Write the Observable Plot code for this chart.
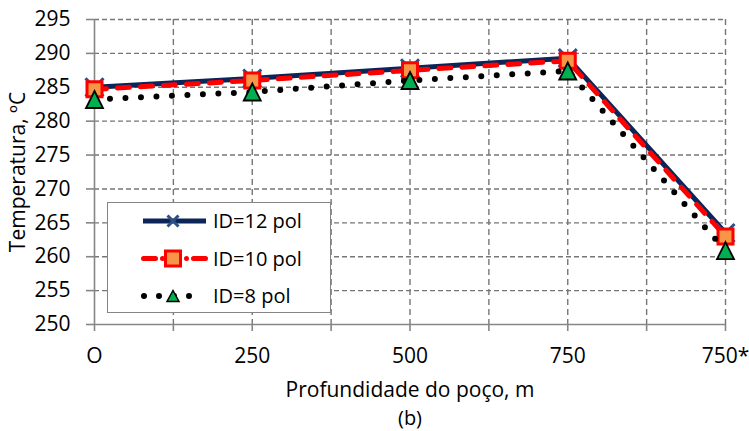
<!DOCTYPE html>
<html>
<head>
<meta charset="utf-8">
<script src="https://cdn.jsdelivr.net/npm/d3@7"></script>
<script src="https://cdn.jsdelivr.net/npm/@observablehq/plot@0.6"></script>
<style>
  html, body { margin: 0; padding: 0; background: #fff; }
  #wrap { position: relative; width: 749px; height: 431px; font-family: "Open Sans", sans-serif; }
  #legend { position: absolute; left: 107px; top: 202px; width: 222px; height: 109px; background: #fff; border: 1.5px solid #858585; }
</style>
</head>
<body>
<div id="wrap"><div id="chart"></div><div id="legend"></div></div>
<script>
// ---- data ----
const categories = ["O", "250", "500", "750", "750*"];
const id12 = [285.0, 286.3, 287.8, 289.3, 263.5];
const id10 = [284.7, 286.0, 287.5, 288.9, 263.0];
const id8  = [283.2, 284.3, 286.0, 287.4, 260.9];
const seriesNames = ["ID=12 pol", "ID=10 pol", "ID=8 pol"];
const yTicks = [250, 255, 260, 265, 270, 275, 280, 285, 290, 295];
const xLabel = "Profundidade do poço, m";
const subLabel = "(b)";
const yLabel = "Temperatura, ºC";

// ---- build table ----
const rows = (vals) => vals.map((v, i) => ({i, v}));
const d12 = rows(id12), d10 = rows(id10), d8 = rows(id8);
const halfTicks = d3.range(0, categories.length - 0.99, 0.5);
const gridX = halfTicks.filter(t => t > 0);
const gridY = yTicks.filter(t => t > yTicks[0]);

// custom symbols
const xSym = (s) => ({draw(ctx) { ctx.moveTo(-s, -s); ctx.lineTo(s, s); ctx.moveTo(s, -s); ctx.lineTo(-s, s); }});
const sqSym = (s) => ({draw(ctx) { ctx.rect(-s/2, -s/2, s, s); }});
const triSym = (w, h) => ({draw(ctx) { ctx.moveTo(0, -h/2); ctx.lineTo(w/2, h/2); ctx.lineTo(-w/2, h/2); ctx.closePath(); }});

const gridColor = "#767676";
const axisColor = "#868686";
const c12 = "#0c2559", m12 = "#2c4f85";
const c10 = "#ff0000", f10 = "#f79646";
const c8 = "#000000", f8 = "#00b050";

const chart = Plot.plot({
  width: 749,
  height: 431,
  marginTop: 19,
  marginBottom: 107,
  marginLeft: 94,
  marginRight: 24,
  style: {fontFamily: "Open Sans", fontSize: "21px", color: "#000", background: "#fff"},
  x: {type: "linear", domain: [0, categories.length - 1]},
  y: {domain: [yTicks[0], yTicks[yTicks.length - 1]]},
  marks: [
    Plot.ruleY(gridY, {stroke: gridColor, strokeWidth: 1.4, strokeDasharray: "5,3"}),
    Plot.ruleX(gridX, {stroke: gridColor, strokeWidth: 1.4, strokeDasharray: "6,4"}),
    Plot.ruleX([0], {stroke: axisColor, strokeWidth: 1.6}),
    Plot.ruleY([yTicks[0]], {stroke: axisColor, strokeWidth: 1.6}),
    Plot.axisY({ticks: yTicks, tickSize: 8, tickPadding: 16, stroke: axisColor, strokeWidth: 1.6, fill: "#000", fontSize: 21, label: null, tickFormat: d => String(d)}),
    Plot.axisX({ticks: halfTicks, tickSize: 7, tickPadding: 17, stroke: axisColor, strokeWidth: 1.6, fill: "#000", fontSize: 21, label: null,
      tickFormat: d => Number.isInteger(d) ? categories[d] : ""}),
    // ID=12
    Plot.line(d12, {x: "i", y: "v", stroke: c12, strokeWidth: 5}),
    Plot.dot(d12, {x: "i", y: "v", symbol: xSym(9), r: 5, fill: "none", stroke: m12, strokeWidth: 3}),
    // ID=10
    Plot.line(d10, {x: "i", y: "v", stroke: c10, strokeWidth: 5, strokeDasharray: "12,11", strokeLinecap: "round"}),
    Plot.dot(d10, {x: "i", y: "v", symbol: sqSym(15), r: 5, fill: f10, stroke: c10, strokeWidth: 3}),
    // ID=8
    Plot.line(d8, {x: "i", y: "v", stroke: c8, strokeWidth: 6, strokeDasharray: "0,15.5", strokeLinecap: "round"}),
    Plot.dot(d8, {x: "i", y: "v", symbol: triSym(17, 17), r: 5, fill: f8, stroke: "#000", strokeWidth: 1.8}),
    // titles
    Plot.text([xLabel], {frameAnchor: "bottom", lineAnchor: "top", dy: 58, fontSize: 21, fill: "#000"}),
    Plot.text([subLabel], {frameAnchor: "bottom", lineAnchor: "top", dy: 86, fontSize: 20, fill: "#000"}),
    Plot.text([yLabel], {frameAnchor: "left", textAnchor: "middle", rotate: -90, dx: -76, fontSize: 21, fill: "#000"})
  ]
});
document.getElementById("chart").appendChild(chart);

// ---- legend ----
const lg = d3.select("#legend").append("svg").attr("width", 222).attr("height", 109)
  .style("font-family", "Open Sans").style("font-size", "20px");
const styles = [
  {line: {stroke: c12, "stroke-width": 5}, sym: xSym(5.5), fill: "none", stroke: m12, sw: 3},
  {line: {stroke: c10, "stroke-width": 5, "stroke-linecap": "round"}, sym: sqSym(15), fill: f10, stroke: c10, sw: 3},
  {line: {stroke: c8, "stroke-width": 6, "stroke-dasharray": "0,15", "stroke-linecap": "round"}, sym: triSym(12, 11), fill: f8, stroke: "#000", sw: 1.5}
];
seriesNames.forEach((name, k) => {
  const y = 18 + k * 37.5;
  const g = lg.append("g").attr("transform", `translate(0,${y})`);
  const s = styles[k];
  const ln = g.append("line").attr("x1", 35).attr("x2", 98).attr("y1", 0).attr("y2", 0);
  Object.entries(s.line).forEach(([a, v]) => ln.attr(a, v));
  if (k === 1) ln.attr("x1", 35.5).attr("x2", 97.5).attr("stroke-dasharray", "12,7,0,24,0,7,12");
  if (k === 2) ln.attr("x1", 36).attr("x2", 96);
  g.append("path").attr("d", d3.symbol(s.sym, 64)()).attr("transform", "translate(65,0)")
    .attr("fill", s.fill).attr("stroke", s.stroke).attr("stroke-width", s.sw);
  g.append("text").attr("x", 105).attr("y", 0).attr("dy", "0.35em").attr("fill", "#000").text(name);
});
</script>
</body>
</html>
